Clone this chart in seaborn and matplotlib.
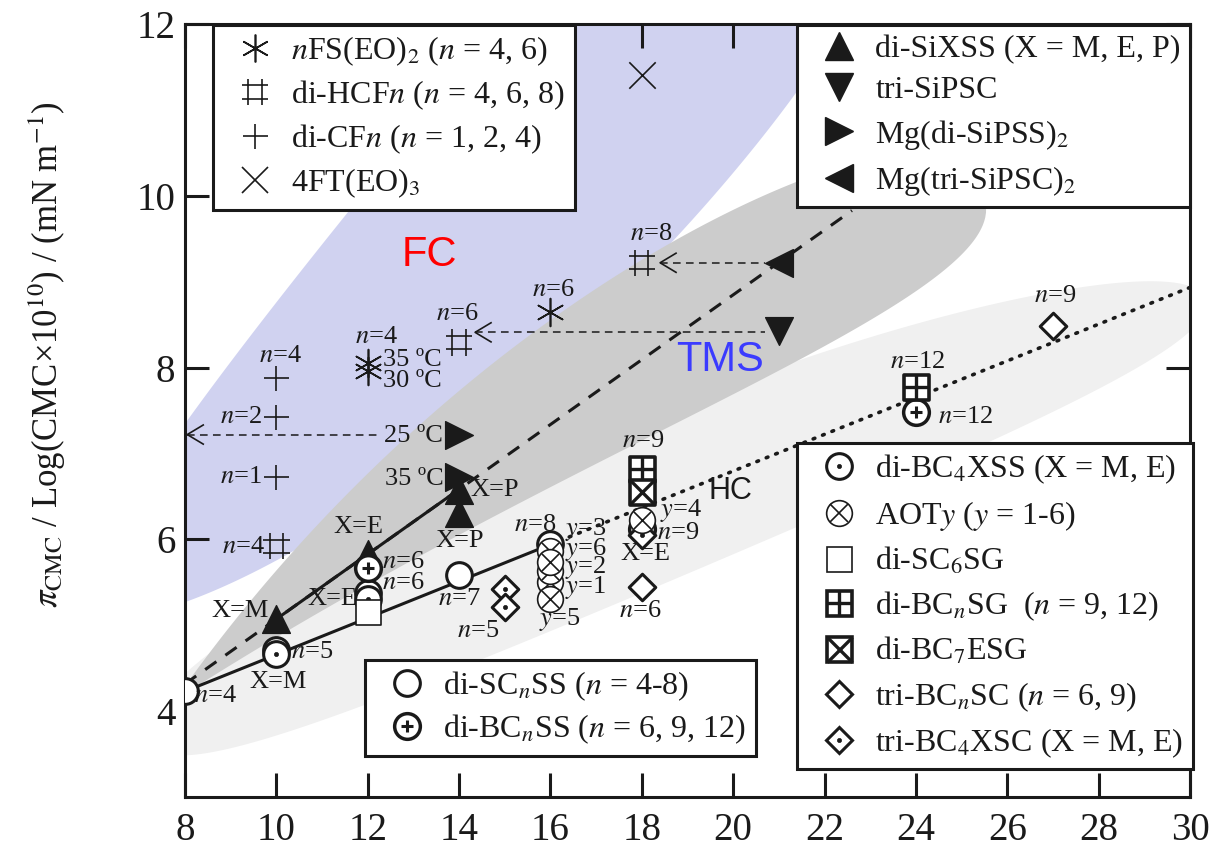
import numpy as np
import matplotlib
matplotlib.use("Agg")
import matplotlib.pyplot as plt
import seaborn as sns
from matplotlib.path import Path
from matplotlib.patches import Polygon
from matplotlib.lines import Line2D
from matplotlib.legend_handler import HandlerTuple

# values (x = carbon number, y = pi_CMC / log(CMC x 1e10))
nfs_x = [12, 12, 16]              # nFS(EO)2  n=4 (35 C, 30 C), n=6
nfs_y = [8.05, 7.96, 8.65]
hcf_x = [10, 14, 18]              # di-HCFn  n=4, 6, 8
hcf_y = [5.92, 8.29, 9.22]
cf_x = [10, 10, 10]               # di-CFn  n=1, 2, 4
cf_y = [6.72, 7.43, 7.88]
ft_x = [18]                       # 4FT(EO)3
ft_y = [11.41]
sixss_x = [10, 12, 14, 14]        # di-SiXSS  X=M, E, P, P
sixss_y = [5.07, 5.83, 6.58, 6.31]
trisi_x = [21]                    # tri-SiPSC
trisi_y = [8.43]
mgdi_x = [14, 14]                 # Mg(di-SiPSS)2  25 C, 35 C
mgdi_y = [7.22, 6.72]
mgtri_x = [21]                    # Mg(tri-SiPSC)2
mgtri_y = [9.22]
sc_x = [8, 10, 12, 14, 16]        # di-SCnSS  n=4..8
sc_y = [4.23, 4.71, 5.38, 5.59, 5.94]
bcss_x = [12, 18, 24]             # di-BCnSS  n=6, 9, 12
bcss_y = [5.67, 6.12, 7.48]
bc4xss_x = [10, 12]               # di-BC4XSS  X=M, E
bc4xss_y = [4.66, 5.30]
aot_x = [16, 16, 16, 18, 16, 16]  # AOTy  y=1..6
aot_y = [5.50, 5.63, 5.86, 6.23, 5.31, 5.74]
sc6sg_x = [12]                    # di-SC6SG
sc6sg_y = [5.15]
bcsg_x = [18, 24]                 # di-BCnSG  n=9, 12
bcsg_y = [6.82, 7.77]
bc7esg_x = [18]                   # di-BC7ESG
bc7esg_y = [6.55]
tribc_x = [18, 27]                # tri-BCnSC  n=6, 9
tribc_y = [5.45, 8.48]
tribc4x_x = [15, 15, 18]          # tri-BC4XSC
tribc4x_y = [5.42, 5.21, 6.05]

xticks = list(range(8, 31, 2))
yticks = [4, 6, 8, 10, 12]

# point labels: text, x, y, alignment
notes = [
    (r"$n$=4", 8.2, 4.18, "left"), (r"$n$=5", 10.33, 4.69, "left"),
    ("X=M", 10.03, 4.34, "center"), (r"$n$=6", 12.31, 5.74, "left"),
    (r"$n$=6", 12.31, 5.49, "left"), ("X=E", 11.78, 5.30, "right"),
    (r"$n$=7", 14.0, 5.30, "center"), (r"$n$=8", 15.66, 6.17, "center"),
    (r"$n$=5", 14.41, 4.93, "center"), (r"$y$=3", 16.32, 6.12, "left"),
    (r"$y$=6", 16.32, 5.88, "left"), (r"$y$=2", 16.32, 5.67, "left"),
    (r"$y$=1", 16.32, 5.44, "left"), (r"$y$=5", 16.2, 5.07, "center"),
    (r"$y$=4", 18.39, 6.33, "left"), (r"$n$=9", 18.33, 6.07, "left"),
    ("X=E", 18.07, 5.83, "center"), (r"$n$=6", 17.96, 5.16, "center"),
    (r"$n$=9", 18.02, 7.14, "center"), (r"$n$=12", 24.04, 8.06, "center"),
    (r"$n$=12", 24.48, 7.43, "left"), (r"$n$=9", 27.04, 8.83, "center"),
    (r"$n$=4", 9.75, 5.91, "right"), ("X=M", 9.2, 5.16, "center"),
    ("X=E", 11.79, 6.14, "center"), ("X=P", 14.02, 5.98, "center"),
    ("X=P", 14.24, 6.58, "left"), ("35 ºC", 13.03, 6.70, "center"),
    ("25 ºC", 12.99, 7.20, "center"), (r"$n$=1", 9.68, 6.72, "right"),
    (r"$n$=2", 9.68, 7.43, "right"), (r"$n$=4", 10.08, 8.13, "center"),
    (r"$n$=4", 12.2, 8.36, "center"), ("35 ºC", 12.33, 8.09, "left"),
    ("30 ºC", 12.33, 7.84, "left"), (r"$n$=6", 13.95, 8.62, "center"),
    (r"$n$=6", 16.05, 8.9, "center"), (r"$n$=8", 18.2, 9.55, "center"),
]

sns.set_theme(style="ticks", rc={"text.color": "k", "axes.labelcolor": "k",
                                 "xtick.color": "k", "ytick.color": "k",
                                 "axes.edgecolor": "k"})
plt.rcParams["font.family"] = ["Liberation Serif", "DejaVu Serif"]
plt.rcParams["mathtext.fontset"] = "stix"

W, H = 1216, 859
fig = plt.figure(figsize=(W / 100, H / 100), dpi=100)
ax = fig.add_axes([185 / W, 1 - 797 / H, 1005 / W, 773 / H])
ax.set_xlim(8, 30)
ax.set_ylim(3, 12)

M, L = Path.MOVETO, Path.LINETO
HASH = Path([(-0.5, -1), (-0.5, 1), (0.5, -1), (0.5, 1),
             (-1, -0.5), (1, -0.5), (-1, 0.5), (1, 0.5)], [M, L] * 4)
CHEV = Path([(1, 0.6), (0, 0), (1, -0.6)], [M, L, L])
STAR = (6, 2, 0)


def band(A, C, B, half, k, r, color, z):
    # shaded region drawn in image pixels along a curved centre line
    s = np.linspace(0, 1, 400)[:, None]
    A, C, B = (np.array(p, float) for p in (A, C, B))
    mid = (1 - s) ** 2 * A + 2 * s * (1 - s) * C + s ** 2 * B
    tan = 2 * (1 - s) * (C - A) + 2 * s * (B - C)
    nrm = np.column_stack([-tan[:, 1], tan[:, 0]]) / np.linalg.norm(tan, axis=1, keepdims=True)
    w = s ** k * (1 - s) ** r
    w = half * w / w.max()
    edge = np.vstack([mid + w * nrm, (mid - w * nrm)[::-1]])
    disp = np.column_stack([edge[:, 0], H - edge[:, 1]])
    ax.add_patch(Polygon(ax.transData.inverted().transform(disp), closed=True,
                         fc=color, ec="none", zorder=z))


def pts(x, y, marker, ms, fc="white", lw=2.2, z=4):
    sns.scatterplot(x=x, y=y, marker=marker, s=ms ** 2, color="k", facecolor=fc,
                    edgecolor="k", linewidth=lw, zorder=z, ax=ax, legend=False)


def strokes(x, y, marker, ms, lw=1.2, z=4):
    sns.scatterplot(x=x, y=y, marker=marker, s=ms ** 2, color="k",
                    linewidth=lw, zorder=z, ax=ax, legend=False)


def arrow(y, x0, x1):
    sns.lineplot(x=[x0, x1], y=[y, y], color="k", lw=1.1, linestyle=(0, (5, 3.5)),
                 ax=ax, zorder=2.5)
    pts([x1], [y], CHEV, 24, fc="none", lw=1.2, z=2.5)


band((90, 612), (440, 342), (840, -170), 135, 0.6, 0.25, "#d0d2f0", 0.5)
band((150, 740), (683, 460), (1205, 300), 80, 0.4, 0.45, "#f0f0f0", 0.6)
band((175, 700), (502, 387), (980, 185), 82, 1.0, 0.35, "#cccccc", 0.7)

# fitted lines
hc = np.polyfit([sc_x[0], sc_x[-1]], [sc_y[0], sc_y[-1]], 1)
sns.lineplot(x=[sc_x[0], sc_x[-1]], y=np.polyval(hc, [sc_x[0], sc_x[-1]]),
             color="k", lw=2.2, ax=ax, zorder=2)
sns.lineplot(x=[sc_x[-1], 30], y=np.polyval(hc, [sc_x[-1], 30]), color="k", lw=2.6,
             linestyle=(0, (0.5, 2.3)), dash_capstyle="round", ax=ax, zorder=2)
si = np.polyfit(sixss_x[:3], sixss_y[:3], 1)
sns.lineplot(x=[sixss_x[0], sixss_x[2]], y=np.polyval(si, [sixss_x[0], sixss_x[2]]),
             color="k", lw=2.2, ax=ax, zorder=2)
sns.lineplot(x=[8, 22.6], y=np.polyval(si, [8, 22.6]), color="k", lw=2.2,
             linestyle=(0, (4.5, 3.6)), ax=ax, zorder=2)

arrow(mgdi_y[0], 12.3, 8.05)
arrow(mgtri_y[0], mgtri_x[0] - 0.3, 18.4)
arrow(trisi_y[0] - 0.02, trisi_x[0] - 0.3, 14.35)

# fluorocarbon group
strokes(nfs_x, nfs_y, STAR, 20)
pts(hcf_x, hcf_y, HASH, 19, fc="none", lw=1.2)
strokes(cf_x, cf_y, "+", 18)
strokes(ft_x, ft_y, "x", 19)

# silicone group
pts(sixss_x, sixss_y, "^", 20, fc="k", lw=1, z=3)
pts(trisi_x, trisi_y, "v", 20, fc="k", lw=1, z=3)
pts(mgtri_x, mgtri_y, "<", 20, fc="k", lw=1, z=3)
pts(mgdi_x, mgdi_y, ">", 20, fc="k", lw=1, z=5.5)

# hydrocarbon group
pts(sc_x, sc_y, "o", 18.5, z=3.5)
pts(bc4xss_x, bc4xss_y, "o", 18.5, z=3.6)
pts(bc4xss_x, bc4xss_y, "o", 3, fc="k", lw=0.5, z=3.61)
pts(bcss_x, bcss_y, "o", 18.5, lw=2.5, z=4)
strokes(bcss_x, bcss_y, "+", 9, lw=2.2, z=4.01)
pts(tribc_x, tribc_y, "D", 13.5, z=4.2)
pts(tribc4x_x, tribc4x_y, "D", 13.5, z=4.2)
pts(tribc4x_x, tribc4x_y, "o", 3, fc="k", lw=0.5, z=4.21)
for i in [2, 5, 1, 0, 4, 3]:
    pts([aot_x[i]], [aot_y[i]], "o", 18.5, lw=1.2, z=4.5 + i * 0.02)
    strokes([aot_x[i]], [aot_y[i]], "x", 12.5, lw=1.2, z=4.51 + i * 0.02)
pts(sc6sg_x, sc6sg_y, "s", 18, lw=1.2, z=5)
pts(bcsg_x, bcsg_y, "s", 18, lw=2.6, z=5)
strokes(bcsg_x, bcsg_y, "+", 18, lw=2.4, z=5.01)
pts(bc7esg_x, bc7esg_y, "s", 18, lw=2.6, z=5.2)
strokes(bc7esg_x, bc7esg_y, "x", 18, lw=2.4, z=5.21)

for txt, x, y, ha in notes:
    ax.text(x, y, txt, fontsize=19, ha=ha, va="center", zorder=6)
ax.text(13.36, 9.31, "FC", color="#ff0000", fontsize=30, family="Liberation Sans",
        ha="center", va="center", zorder=6)
ax.text(19.71, 8.09, "TMS", color="#3b3bff", fontsize=30, family="Liberation Sans",
        ha="center", va="center", zorder=6)
ax.text(19.93, 6.56, "HC", fontsize=22, family="Liberation Sans",
        ha="center", va="center", zorder=6)

ax.set_xticks(xticks)
ax.set_yticks(yticks)
ax.set_xticklabels([str(t) for t in xticks])
ax.set_yticklabels([str(t) for t in yticks])
ax.tick_params(direction="in", length=17, width=2.2, top=True, right=True, labelsize=28)
ax.tick_params(axis="x", pad=11)
ax.tick_params(axis="y", pad=7)
for sp in ax.spines.values():
    sp.set_linewidth(2.2)
ax.set_xlim(8, 30)
ax.set_ylim(3, 12)
ax.set_ylabel(r"$\pi_{\mathrm{CMC}}$ / Log(CMC×10$^{10}$) / (mN m$^{-1}$)", fontsize=25)
ax.yaxis.set_label_coords(-0.116, 0.572)


def h(marker, ms, mfc="white", mew=2.2):
    return Line2D([], [], ls="none", marker=marker, ms=ms, mfc=mfc, mec="k", mew=mew)


common = dict(loc="upper left", bbox_transform=fig.transFigure, borderaxespad=0,
              fancybox=False, framealpha=1, edgecolor="k", fontsize=23,
              handlelength=2.0, handletextpad=0.15, borderpad=0.3,
              handler_map={tuple: HandlerTuple(ndivide=1)})

legends = [
    ([h(STAR, 20, mew=1.2), h(HASH, 19, "none", 1.2), h("+", 18, mew=1.2), h("x", 19, mew=1.2)],
     [r"$n$FS(EO)$_2$ ($n$ = 4, 6)", r"di-HCF$n$ ($n$ = 4, 6, 8)",
      r"di-CF$n$ ($n$ = 1, 2, 4)", r"4FT(EO)$_3$"], (213, 25), 0.33),
    ([h("^", 20, "k", 1), h("v", 20, "k", 1), h(">", 20, "k", 1), h("<", 20, "k", 1)],
     ["di-SiXSS (X = M, E, P)", "tri-SiPSC", r"Mg(di-SiPSS)$_2$", r"Mg(tri-SiPSC)$_2$"],
     (797, 25), 0.38),
    ([h("o", 18.5), (h("o", 18.5, mew=2.5), h("+", 9, mew=2.2))],
     [r"di-SC$_n$SS ($n$ = 4-8)", r"di-BC$_n$SS ($n$ = 6, 9, 12)"], (365, 660), 0.3),
    ([(h("o", 18.5), h("o", 3, "k", 0.5)), (h("o", 18.5, mew=1.2), h("x", 12.5, mew=1.2)),
      h("s", 18, mew=1.2), (h("s", 18, mew=2.6), h("+", 18, mew=2.4)),
      (h("s", 18, mew=2.6), h("x", 18, mew=2.4)), h("D", 13.5),
      (h("D", 13.5), h("o", 3, "k", 0.5))],
     [r"di-BC$_4$XSS (X = M, E)", r"AOT$y$ ($y$ = 1-6)", r"di-SC$_6$SG",
      r"di-BC$_n$SG  ($n$ = 9, 12)", r"di-BC$_7$ESG", r"tri-BC$_n$SC ($n$ = 6, 9)",
      r"tri-BC$_4$XSC (X = M, E)"], (797, 443), 0.4),
]
for handles, labels, (lx, ly), gap in legends:
    leg = fig.legend(handles, labels, bbox_to_anchor=(lx / W, 1 - ly / H),
                     labelspacing=gap, **common)
    leg.get_frame().set_linewidth(2.2)

fig.savefig("out.png", dpi=100)
